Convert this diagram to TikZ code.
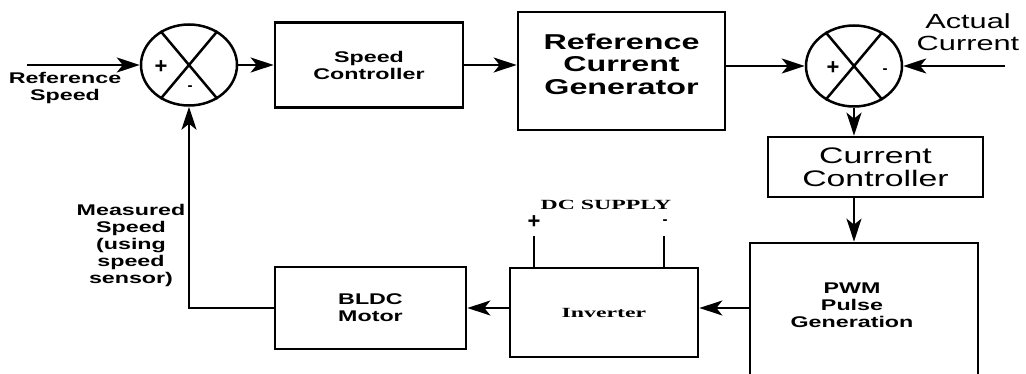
\documentclass[tikz,border=0pt]{standalone}
\usepackage{fontspec}
\setmainfont{Liberation Sans}
\newfontfamily\blockfont[FakeStretch=1.5]{Liberation Sans}
\newfontfamily\supplyfont[FakeStretch=1.7]{Liberation Serif}
\usetikzlibrary{positioning,arrows.meta}
\usetikzlibrary{shapes.geometric}

\begin{document}
\begin{tikzpicture}[x=1pt,y=-1pt,
  block/.style={draw,line width=2.7pt,rectangle,inner sep=0pt},
  summer/.style={draw,line width=2.5pt,ellipse,minimum width=96pt,minimum height=81pt,inner sep=0pt},
  wire/.style={line width=2.5pt},
  arr/.style={line width=2.5pt,-{Stealth[length=23pt,width=15pt,inset=6pt]}},
  small/.style={font=\blockfont\bfseries\fontsize{15.5}{17}\selectfont,align=center},
  big/.style={font=\blockfont\bfseries\fontsize{21.5}{22.5}\selectfont,align=center},
  mid/.style={font=\blockfont\fontsize{22.5}{23}\selectfont,align=center},
  plain/.style={font=\blockfont\fontsize{20.5}{22}\selectfont,align=center},
  serif/.style={font=\supplyfont\bfseries\fontsize{14}{16}\selectfont,align=center},
  sign/.style={font=\bfseries\fontsize{22}{22}\selectfont,inner sep=0pt},
  minussign/.style={font=\bfseries\fontsize{15}{15}\selectfont,inner sep=0pt}]
  \useasboundingbox (0,0) rectangle (1026,374);
  \clip (0,0) rectangle (1026,374);

  \node[summer] (s1) at (189,65) {};
  \draw[wire] (s1.50) -- (s1.230);
  \draw[wire] (s1.130) -- (s1.310);
  \node[sign] (s1plus) at (161,67) {+};
  \node[minussign] (s1minus) at (190,88) {-};
  \coordinate (refin) at (27,65);
  \node[small] (reftxt) at (65,88) {Reference\\Speed};

  \node[block,small,minimum width=188pt,minimum height=85pt] (sc) at (369,65) {Speed\\Controller};

  \node[block,minimum width=207pt,minimum height=118pt] (rcg) at (621.5,71) {};
  \node[big] (rcgtxt) at (621.5,64) {Reference\\Current\\Generator};

  \node[summer] (s2) at (854,66) {};
  \draw[wire] (s2.50) -- (s2.230);
  \draw[wire] (s2.130) -- (s2.310);
  \node[sign] (s2plus) at (833,68) {+};
  \node[minussign] (s2minus) at (885,71) {-};
  \coordinate (actin) at (1005,66);
  \node[plain] (acttxt) at (968,32) {Actual\\Current};

  \node[block,mid,minimum width=215pt,minimum height=60pt] (cc) at (875.5,167) {Current\\Controller};

  \node[block,minimum width=228pt,minimum height=160pt] (pwm) at (864,323) {};
  \node[small] (pwmtxt) at (852,305) {PWM\\Pulse\\Generation};

  \node[block,serif,minimum width=188pt,minimum height=89pt] (inv) at (604,312.5) {Inverter};
  \node[serif] (dctxt) at (606,205) {DC SUPPLY};
  \coordinate (dcplus) at (534,236);
  \coordinate (dcminus) at (664,236);
  \node[sign] (dcp) at (534,222) {+};
  \node[minussign] (dcm) at (665,222) {-};
  \draw[wire] (dcplus) -- (dcplus |- inv.north);
  \draw[wire] (dcminus) -- (dcminus |- inv.north);

  \node[block,small,minimum width=191pt,minimum height=82pt] (bldc) at (370.5,308) {BLDC\\Motor};
  \node[small] (meastxt) at (131,245) {Measured\\Speed\\(using\\speed\\sensor)};

  \draw[arr] (refin) -- (s1.west);
  \draw[arr] (s1.east) -- (s1.east -| sc.west);
  \draw[arr] (sc.east) -- (sc.east -| rcg.west);
  \draw[arr] (rcg.east |- s2.west) -- (s2.west);
  \draw[arr] (actin) -- (s2.east);
  \draw[arr] (s2.south) -- (s2.south |- cc.north);
  \draw[arr] (s2.south |- cc.south) -- (s2.south |- pwm.north);
  \draw[arr] (pwm.west |- bldc.east) -- (inv.east |- bldc.east);
  \draw[arr] (inv.west |- bldc.east) -- (bldc.east);
  \draw[arr] (bldc.west) -- (s1.south |- bldc.west) -- (s1.south);
\end{tikzpicture}
\end{document}
